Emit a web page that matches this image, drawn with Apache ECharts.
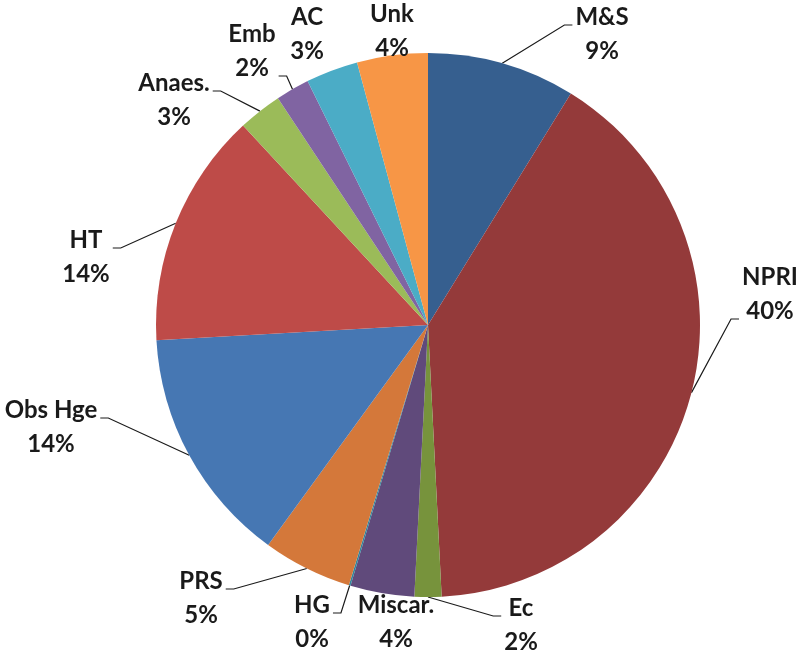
<!DOCTYPE html>
<html>
<head>
<meta charset="utf-8">
<script src="https://cdn.jsdelivr.net/npm/echarts@6/dist/echarts.min.js"></script>
<style>
  html, body { margin: 0; padding: 0; background: #fff; }
  #chart { width: 800px; height: 661px; }
</style>
</head>
<body>
<div id="chart"></div>
<script>
// causes, clockwise from 12 o'clock
const categories = ['M&S', 'NPRI', 'Ec', 'Miscar.', 'HG', 'PRS', 'Obs Hge', 'HT', 'Anaes.', 'Emb', 'AC', 'Unk']
const shares = [8.8, 40.4, 1.6, 3.8, 0.1, 5.3, 14.1, 14.0, 2.6, 2.0, 3.1, 4.2]
const colors = ['#365F8F', '#943A3A', '#77933C', '#604A7B', '#31859C', '#D4783A',
    '#4677B3', '#BE4B48', '#9BBB59', '#8064A2', '#4BACC6', '#F79646']

// where each label block sits (centre), which side the leader line comes in from
// and which text row it meets (null = no leader)
const labelSpots = [
    { x: 602, y: 34, side: 'left', row: 0 },
    { x: 770, y: 294, side: 'left', row: 1 },
    { x: 521, y: 625, side: 'left', row: 0 },
    { x: 396, y: 622, side: null },
    { x: 312, y: 622, side: 'right', row: 0 },
    { x: 201, y: 598, side: 'right', row: 0 },
    { x: 51, y: 427, side: 'right', row: 0 },
    { x: 86, y: 257, side: 'right', row: 0 },
    { x: 174, y: 100, side: 'right', row: 0 },
    { x: 252, y: 51, side: 'right', row: 1 },
    { x: 307, y: 34, side: null },
    { x: 392, y: 31, side: null }
]
const LINE_H = 34

const chart = echarts.init(document.getElementById('chart'))

chart.setOption({
    animation: false,
    color: colors,
    series: [{
        type: 'pie',
        center: [428, 325],
        radius: 272,
        startAngle: 90,
        clockwise: true,
        percentPrecision: 0,
        avoidLabelOverlap: false,
        label: {
            show: true,
            position: 'outside',
            formatter: '{b}\n{d}%',
            fontFamily: 'Lato',
            fontWeight: 'bold',
            fontSize: 24,
            lineHeight: LINE_H,
            color: '#1a1a1a'
        },
        labelLine: {
            show: true,
            length: 10,
            length2: 10,
            lineStyle: { color: '#1a1a1a', width: 1.2 }
        },
        labelLayout: function (params) {
            const s = labelSpots[params.dataIndex]
            const out = { x: s.x, y: s.y, align: 'center', verticalAlign: 'middle' }
            if (s.side && params.labelLinePoints) {
                const w = params.labelRect.width
                const yy = s.y - LINE_H / 2 + s.row * LINE_H + 8
                const edge = params.labelLinePoints[0]
                if (s.side === 'left') {
                    const l = s.x - w / 2
                    out.labelLinePoints = [edge, [l - 11, yy], [l - 3, yy]]
                } else {
                    const r = s.x + w / 2
                    out.labelLinePoints = [edge, [r + 11, yy], [r + 3, yy]]
                }
            }
            return out
        },
        itemStyle: { borderWidth: 0 },
        data: categories.map((name, i) => ({
            name: name,
            value: shares[i],
            labelLine: { show: labelSpots[i].side !== null }
        }))
    }]
})
</script>
</body>
</html>
